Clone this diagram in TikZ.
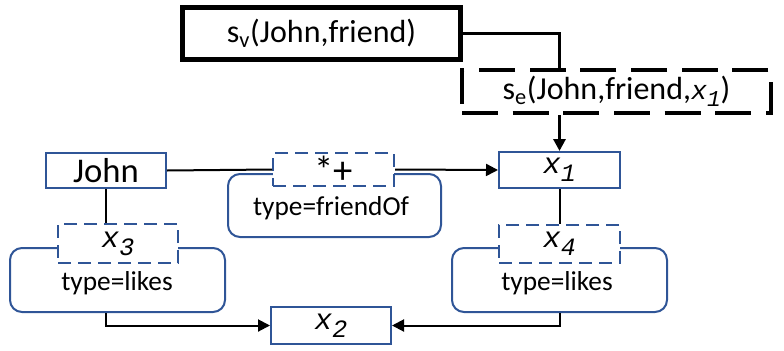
\documentclass[tikz,border=0pt]{standalone}
\usepackage{fontspec}
\setmainfont{Carlito}
\newfontfamily\monofont{Liberation Mono}
\usetikzlibrary{arrows.meta,positioning,calc}
\definecolor{boxblue}{RGB}{47,85,151}
\newcommand{\xvar}[1]{{\monofont\itshape x\raisebox{-0.5ex}{\scalebox{0.85}{#1}}}}
\newcommand{\fs}[1]{\fontsize{#1}{#1}\selectfont}
\tikzset{
  plainbox/.style={draw=boxblue,line width=1.5pt,inner sep=0pt},
  varbox/.style={draw=boxblue,line width=1.5pt,dash pattern=on 10pt off 5pt,fill=white,inner sep=0pt},
  typebox/.style={draw=boxblue,line width=1.5pt,rounded corners=9pt,inner sep=0pt},
  link/.style={line width=1.5pt},
  >={Triangle[length=9pt,width=9pt]},
}

\begin{document}
\begin{tikzpicture}[x=0.75pt,y=-0.75pt]
  \useasboundingbox (0,0) rectangle (784,350);
  % view and edge selectors
  \node[draw,line width=3.75pt,minimum width=208.5pt,minimum height=39pt] (sv) at (321.5,33.5) {\fs{24}s\textsubscript{v}(John,friend)};
  \node[draw,line width=3pt,dash pattern=on 27pt off 11pt,minimum width=231.75pt,minimum height=32.25pt] (se) at (616.5,91.5) {\fs{24}s\textsubscript{e}(John,friend,{\fs{20}\xvar{1}})};
  % type boxes
  \node[typebox,minimum width=159.75pt,minimum height=47.25pt] (friendof) at (334.5,205.5) {};
  \node[typebox,minimum width=161.25pt,minimum height=48pt] (likesl) at (117.5,280) {};
  \node[typebox,minimum width=161.25pt,minimum height=48pt] (likesr) at (559.5,280) {};
  \node (friendoftxt) at (331,208) {\fs{20.5}type=friendOf};
  \node (likesltxt) at (117,283) {\fs{20.5}type=likes};
  \node (likesrtxt) at (557,283) {\fs{20.5}type=likes};
  % vertices
  \node[plainbox,minimum width=90pt,minimum height=26.25pt] (john) at (106,170.5) {\fs{26}John};
  \node[plainbox,minimum width=90.75pt,minimum height=27pt] (x1) at (559.5,170) {\fs{22}\xvar{1}};
  \node[plainbox,minimum width=90pt,minimum height=27.75pt] (x2) at (331,325.5) {\fs{22}\xvar{2}};
  \node[varbox,minimum width=90.75pt,minimum height=24.75pt] (star) at (333.5,169.5) {\fs{29}*+};
  \node[varbox,minimum width=90pt,minimum height=29.25pt] (x3) at (118,243.5) {\fs{22}\xvar{3}};
  \node[varbox,minimum width=90.75pt,minimum height=28.5pt] (x4) at (559.5,244) {\fs{22}\xvar{4}};
  % connectors
  \draw[line width=2.25pt] (sv.east) -| (se.north -| x1.north);
  \draw[line width=2.25pt,->] (se.south -| x1.north) -- (x1.north);
  \draw[link] (john.east) -- (star.west);
  \draw[link,->] (star.east) -- (x1.west);
  \draw[link] (john.south) -- (john.south |- x3.north);
  \draw[link] (x1.south) -- (x4.north);
  \draw[link,->] (likesl.south -| john.south) |- (x2.west);
  \draw[link,->] (likesr.south) |- (x2.east);
\end{tikzpicture}
\end{document}
